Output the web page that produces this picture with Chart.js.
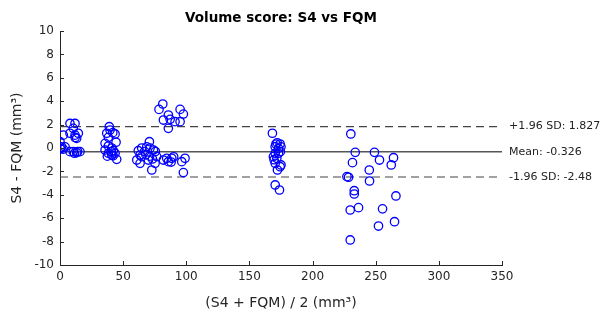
<!DOCTYPE html>
<html>
<head>
<meta charset="utf-8">
<script src="https://cdn.jsdelivr.net/npm/chart.js@4/dist/chart.umd.min.js"></script>
<style>
  html, body { margin: 0; padding: 0; background: #fff; }
  #wrap { width: 608px; height: 317px; }
</style>
</head>
<body>
<div id="wrap"><canvas id="ba"></canvas></div>
<script>
// Bland-Altman: mean of the two methods (x) vs their difference (y)
const avgValues = [
  0, 1.3, 0, 2.6, 7.9, 11.9, 10.5, 7.9, 11.9, 14.5, 13.2, 7.9, 10.5, 13.2, 15.8, 2.6, 4, 12, 0.5, 11.5, 14,
  39, 39.6, 37, 41.8, 43.6, 38.3, 35.7, 38.3, 41, 35.7, 42.2, 38.3, 43.6, 41, 44.9, 44.4, 37.5, 42, 40.5,
  70.8, 64.7, 68.7, 71.3, 74, 64.7, 63.4, 70, 72.7, 76.6, 75.3, 81.9, 84.5, 88.5, 85.8, 99, 97.7, 96.4,
  62, 63.4, 60.8, 68, 71, 73.2, 67, 90, 88, 75.5,
  81.4, 78.4, 95.1, 97.7, 85.8, 81.9, 87.2, 91.1, 95.1, 85.8,
  168.2, 171, 174.3, 170.4, 173, 174.5, 170.4, 173, 169, 171.7, 170.4, 174.3, 172.2, 170.4, 173.8, 172, 175, 169.5, 175,
  230.3, 233.8, 249, 231.6, 253, 264.1, 262.3, 244.9, 227.2, 228.5, 245.1, 233, 233, 266, 229.8, 236.4, 255.4, 252.2, 264.9, 229.8
];
const diffValues = [
  0, 0.1, 0.54, 1.1, 2.1, 2.1, 1.68, 1.26, 1.1, 1.26, 0.83, -0.31, -0.31, -0.4, -0.31, -0.1, 0.1, 0.9, -0.05, -0.45, -0.3,
  1.82, 1.54, 1.26, 1.31, 1.2, 0.91, 0.4, 0.17, 0, -0.17, -0.23, -0.45, -0.45, -0.6, -0.97, 0.49, -0.7, -0.66, -0.3,
  0.54, 0, 0.1, 0, -0.17, -0.74, -1.31, -1.03, -1.88, -0.74, -1.31, -1.03, -0.88, -0.88, -1.17, -0.88, -2.1, -1.17,
  -0.23, -0.6, -1.03, -0.57, -0.7, -0.94, -0.3, -0.75, -1.2, -0.3,
  3.76, 3.3, 3.3, 2.9, 2.82, 2.39, 2.45, 2.25, 2.25, 1.68,
  1.26, 0.34, 0.34, 0.11, -0.03, -0.31, -0.45, -0.45, -0.74, -0.88, -1.31, -1.6, -1.88, -3.16, -3.59, 0.45, 0.1, -1.0, -1.45,
  1.2, -0.37, -0.37, -1.25, -1.03, -0.83, -1.45, -1.88, -2.45, -2.5, -2.82, -3.65, -3.93, -4.1, -5.3, -5.1, -5.2, -6.67, -6.3, -7.86
];
const meanDiff = -0.326;
const upperLoA = 1.827;
const lowerLoA = -2.48;
const refLabels = ['+1.96 SD: 1.827', 'Mean: -0.326', '-1.96 SD: -2.48'];
const xRange = [0, 350];
const yRange = [-10, 10];

const FONT = 'DejaVu Sans';
const AXIS = '#262626';

const points = avgValues.map((x, i) => ({ x, y: diffValues[i] }));
const hline = v => [{ x: xRange[0], y: v }, { x: xRange[1], y: v }];

// inward ticks, right-hand labels and the title
const decor = {
  id: 'decor',
  afterDraw(chart) {
    const { ctx, chartArea: a, scales: { x, y } } = chart;
    ctx.save();
    ctx.strokeStyle = AXIS;
    ctx.lineWidth = 1;
    ctx.beginPath();
    x.ticks.forEach(t => {
      const px = Math.round(x.getPixelForValue(t.value)) + 0.5;
      ctx.moveTo(px, a.bottom); ctx.lineTo(px, a.bottom - 4);
    });
    y.ticks.forEach(t => {
      const py = Math.round(y.getPixelForValue(t.value)) + 0.5;
      ctx.moveTo(a.left, py); ctx.lineTo(a.left + 4, py);
    });
    ctx.stroke();

    ctx.fillStyle = '#222';
    ctx.font = '11px "' + FONT + '"';
    ctx.textBaseline = 'middle';
    ctx.textAlign = 'left';
    [upperLoA, meanDiff, lowerLoA].forEach((v, i) => {
      ctx.fillText(refLabels[i], a.right + 7, y.getPixelForValue(v));
    });

    ctx.font = 'bold 13.5px "' + FONT + '"';
    ctx.textAlign = 'center';
    ctx.fillStyle = '#000';
    ctx.fillText('Volume score: S4 vs FQM', (a.left + a.right) / 2, 18);
    ctx.restore();
  }
};

new Chart(document.getElementById('ba'), {
  type: 'scatter',
  data: {
    datasets: [
      { data: points, pointStyle: 'circle', pointRadius: 4.2, pointBorderWidth: 1.3,
        borderColor: '#0000ff', backgroundColor: 'rgba(0,0,0,0)', order: 1 },
      { type: 'line', data: hline(upperLoA), borderColor: '#444', borderWidth: 1.2,
        borderDash: [8, 5], pointRadius: 0, order: 2 },
      { type: 'line', data: hline(meanDiff), borderColor: '#555', borderWidth: 1.5,
        pointRadius: 0, order: 2 },
      { type: 'line', data: hline(lowerLoA), borderColor: '#444', borderWidth: 1.2,
        borderDash: [8, 5], pointRadius: 0, order: 2 }
    ]
  },
  options: {
    responsive: true,
    maintainAspectRatio: false,
    animation: false,
    layout: { padding: { top: 31, right: 106, left: 0, bottom: 0 } },
    plugins: { legend: { display: false }, tooltip: { enabled: false }, title: { display: false } },
    scales: {
      x: {
        type: 'linear', min: xRange[0], max: xRange[1],
        ticks: { stepSize: 50, padding: 5, color: AXIS, font: { family: FONT, size: 12 }, maxRotation: 0 },
        grid: { display: true, drawOnChartArea: false, drawTicks: false },
        border: { display: true, color: AXIS, width: 1 },
        title: { display: true, text: '(S4 + FQM) / 2 (mm³)', color: AXIS,
                 font: { family: FONT, size: 14 }, padding: { top: 0, bottom: 5 } },
        afterFit(s) { s.height = 52; }
      },
      y: {
        min: yRange[0], max: yRange[1],
        ticks: { stepSize: 2, padding: 6, color: AXIS, font: { family: FONT, size: 12 } },
        grid: { display: true, drawOnChartArea: false, drawTicks: false },
        border: { display: true, color: AXIS, width: 1 },
        title: { display: true, text: 'S4 - FQM (mm³)', color: AXIS,
                 font: { family: FONT, size: 14 }, padding: { top: 9, bottom: 0 } },
        afterFit(s) { s.width = 60; }
      }
    }
  },
  plugins: [decor]
});
</script>
</body>
</html>
